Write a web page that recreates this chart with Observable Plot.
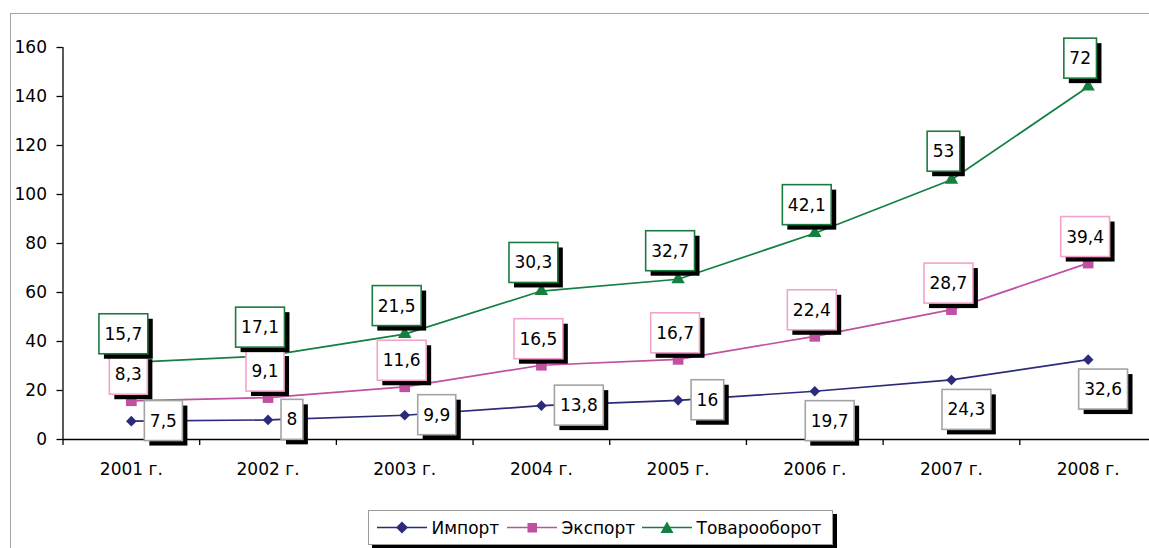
<!DOCTYPE html>
<html><head><meta charset="utf-8">
<script src="https://cdn.jsdelivr.net/npm/d3@7"></script>
<script src="https://cdn.jsdelivr.net/npm/@observablehq/plot@0.6"></script>
<style>
html,body{margin:0;padding:0;background:#fff;}
#wrap{position:relative;width:1149px;height:548px;overflow:hidden;font-family:"DejaVu Sans";}
#frame{position:absolute;left:10px;top:13px;width:1300px;height:700px;border:1.5px solid #a6a6a6;pointer-events:none;}
#chart{position:absolute;left:0;top:0;}
#legend{position:absolute;left:368px;top:510px;width:463px;height:33px;border:1.5px solid #9c9c9c;background:#fff;box-shadow:4px 4px 0 #000;}
.item{position:absolute;top:0;height:33px;display:flex;align-items:center;font-size:17px;color:#000;white-space:nowrap;}
.sw{position:absolute;top:9px;}
</style></head><body>
<div id="wrap"><div id="chart"></div><div id="frame"></div><div id="legend"></div></div>
<script>
const years = ["2001 г.","2002 г.","2003 г.","2004 г.","2005 г.","2006 г.","2007 г.","2008 г."];
const seriesNames = ["Импорт","Экспорт","Товарооборот"];
const importValues = [7.5, 8, 9.9, 13.8, 16, 19.7, 24.3, 32.6];
const exportValues = [8.3, 9.1, 11.6, 16.5, 16.7, 22.4, 28.7, 39.4];
const turnoverValues = [15.7, 17.1, 21.5, 30.3, 32.7, 42.1, 53, 72];
const yTicks = [0, 20, 40, 60, 80, 100, 120, 140, 160];

const lineColors = ["#2b2b7a", "#c050a0", "#138040"];
const markerRadius = [4.8, 6, 5];
const labelBorders = ["#a3a3a3", "#f3a3cb", "#1b7a40"];
const importPlacement = ["right","right","right","right","right","below","below","below"];

const table = [];
[importValues, exportValues, turnoverValues].forEach((vals, s) =>
  vals.forEach((v, i) => table.push({i, s, pos: i + 0.5, series: seriesNames[s], value: v})));

const fmt = v => String(v).replace(".", ",");
const stack = extra => Plot.stackY2({x: "pos", y: "value", z: "series", ...extra});
const labelText = (series, place) => d =>
  d.series === series && (place == null || importPlacement[d.i] === place) ? fmt(d.value) : null;

const chart = Plot.plot({
  width: 1149, height: 500,
  marginLeft: 62.5, marginRight: 0, marginTop: 47, marginBottom: 61,
  style: {background: "transparent", fontFamily: "DejaVu Sans", fontSize: "17px", overflow: "visible"},
  x: {type: "linear", domain: [0, 8], range: [62.5, 1156], axis: null},
  y: {domain: [0, 160], axis: null},
  r: {type: "identity"},
  color: {domain: seriesNames, range: lineColors},
  symbol: {domain: seriesNames, range: ["diamond2", "square", "triangle"]},
  marks: [
    Plot.ruleY([0], {stroke: "#000", strokeWidth: 1.3}),
    Plot.ruleX([0], {y1: 0, y2: 160, stroke: "#000", strokeWidth: 1.3}),
    Plot.axisY({ticks: yTicks, tickSize: 6, tickPadding: 10, fontSize: 17, strokeWidth: 1.3, label: null, tickFormat: d => String(d)}),
    Plot.axisX({ticks: d3.range(0, 9), tickSize: 6, tickFormat: () => "", label: null, strokeWidth: 1.3}),
    Plot.axisX({ticks: years.map((_, i) => i + 0.5), tickSize: 0, tickPadding: 23, fontSize: 17, label: null,
      tickFormat: v => years[Math.round(v - 0.5)]}),
    Plot.line(table, stack({stroke: "series", strokeWidth: 1.7})),
    Plot.dot(table, stack({symbol: "series", fill: "series", r: d => markerRadius[d.s]})),
    Plot.text(table, stack({text: labelText("Импорт", "right"), textAnchor: "start", dx: 18.5, dy: 0, fontSize: 17, fill: "#000"})),
    Plot.text(table, stack({text: labelText("Импорт", "below"), textAnchor: "start", dx: -4, dy: 30, fontSize: 17, fill: "#000"})),
    Plot.text(table, stack({text: labelText("Экспорт"), textAnchor: "middle", dx: -3, dy: -26, fontSize: 17, fill: "#000"})),
    Plot.text(table, stack({text: labelText("Товарооборот"), textAnchor: "middle", dx: -8, dy: -28, fontSize: 17, fill: "#000"}))
  ]
});
document.getElementById("chart").append(chart);

// boxed labels with drop shadow (Excel style)
const ns = "http://www.w3.org/2000/svg";
const groupBorders = [labelBorders[0], labelBorders[0], labelBorders[1], labelBorders[2]];
chart.querySelectorAll('g[aria-label="text"]').forEach((g, k) => {
  g.querySelectorAll("text").forEach(t => {
    if (!t.textContent) return;
    const bb = t.getBBox();
    const w = bb.width + 11, h = 40;
    const x0 = bb.x + bb.width / 2 - w / 2, y0 = bb.y + bb.height / 2 - h / 2;
    const tr = t.getAttribute("transform");
    const sh = document.createElementNS(ns, "rect");
    sh.setAttribute("x", x0 + 5); sh.setAttribute("y", y0 + 5);
    sh.setAttribute("width", w); sh.setAttribute("height", h);
    sh.setAttribute("fill", "#000"); sh.setAttribute("stroke", "none");
    const bx = document.createElementNS(ns, "rect");
    bx.setAttribute("x", x0); bx.setAttribute("y", y0);
    bx.setAttribute("width", w); bx.setAttribute("height", h);
    bx.setAttribute("fill", "#fff"); bx.setAttribute("stroke", groupBorders[k] || "#999");
    bx.setAttribute("stroke-width", 1.6);
    if (tr) { sh.setAttribute("transform", tr); bx.setAttribute("transform", tr); }
    g.insertBefore(sh, t); g.insertBefore(bx, t);
  });
});

// legend
const markerSvg = [
  c => `<path d="M25,1.5L31,7.5L25,13.5L19,7.5Z" fill="${c}"/>`,
  c => `<rect x="20.5" y="3" width="9.5" height="9.5" fill="${c}"/>`,
  c => `<path d="M25,1.5L31.5,13L18.5,13Z" fill="${c}"/>`
];
const swLeft = [7.5, 137.5, 272.5], txtLeft = [62.5, 192.5, 327.5];
const legend = document.getElementById("legend");
seriesNames.forEach((name, s) => {
  const sw = document.createElement("div");
  sw.className = "sw"; sw.style.left = swLeft[s] + "px";
  sw.innerHTML = `<svg width="50" height="15"><line x1="0" x2="50" y1="7.5" y2="7.5" stroke="${lineColors[s]}" stroke-width="1.7"/>${markerSvg[s](lineColors[s])}</svg>`;
  legend.append(sw);
  const tx = document.createElement("div");
  tx.className = "item"; tx.style.left = txtLeft[s] + "px"; tx.textContent = name;
  legend.append(tx);
});
</script>
</body></html>
